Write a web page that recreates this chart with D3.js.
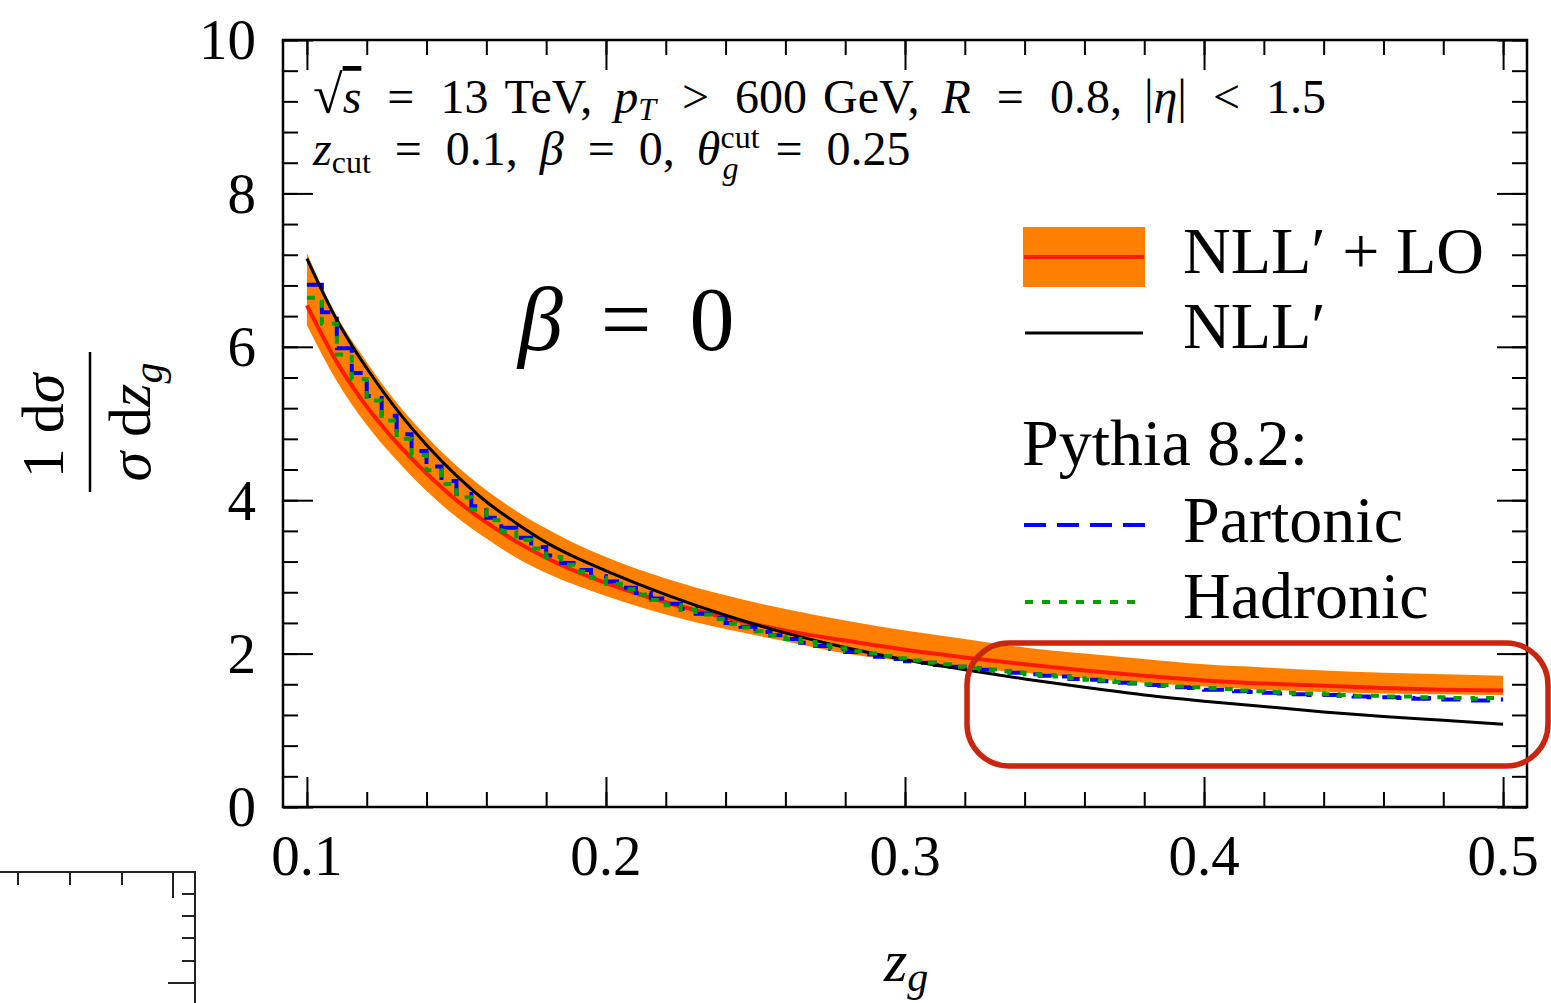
<!DOCTYPE html>
<html>
<head>
<meta charset="utf-8">
<script src="https://cdn.jsdelivr.net/npm/d3@7"></script>
<style>
  body { margin: 0; background: #fff; }
  text { font-family: "Liberation Serif", "Times New Roman", serif; fill: #000; }
  .it { font-style: italic; }
</style>
</head>
<body>
<svg id="chart" width="1551" height="1003"></svg>
<script>
// analytic curves, sampled on this grid
const zGrid = [0.10,0.11,0.12,0.13,0.14,0.15,0.16,0.17,0.18,0.19,0.20,
  0.22,0.24,0.26,0.28,0.30,0.32,0.34,0.36,0.38,0.40,0.42,0.44,0.46,0.48,0.50]
const nll = [7.15,6.35,5.72,5.18,4.72,4.32,3.98,3.70,3.45,3.25,3.08,
  2.77,2.50,2.27,2.08,1.92,1.79,1.67,1.56,1.46,1.38,1.31,1.24,1.18,1.13,1.08]
const nllLoHi = [7.22,6.40,5.80,5.27,4.83,4.45,4.13,3.86,3.63,3.43,3.26,
  2.98,2.76,2.58,2.43,2.30,2.19,2.08,2.00,1.93,1.86,1.82,1.78,1.75,1.73,1.71]
const nllLoLo = [6.28,5.55,4.98,4.52,4.12,3.78,3.50,3.25,3.05,2.89,2.75,
  2.51,2.32,2.16,2.00,1.90,1.82,1.75,1.68,1.62,1.57,1.53,1.50,1.48,1.47,1.46]
const nllLo = [6.54,5.80,5.22,4.75,4.35,4.00,3.71,3.46,3.25,3.07,2.92,
  2.67,2.47,2.30,2.17,2.05,1.95,1.86,1.78,1.71,1.65,1.61,1.58,1.55,1.53,1.52]

// pythia histograms, 80 bins of 0.005 from 0.1 to 0.5
const binStart = 0.1, binWidth = 0.005
const partonic = [
  6.81,6.45,5.98,5.66,5.36,5.10,4.86,4.64,4.44,4.25,
  4.08,3.92,3.77,3.64,3.51,3.39,3.28,3.18,3.09,3.01,
  2.94,2.86,2.79,2.72,2.65,2.58,2.52,2.46,2.40,2.35,
  2.28,2.24,2.19,2.14,2.10,2.06,2.02,1.99,1.96,1.93,
  1.90,1.88,1.85,1.83,1.81,1.79,1.77,1.75,1.73,1.71,
  1.70,1.67,1.66,1.64,1.62,1.61,1.59,1.58,1.56,1.55,
  1.53,1.53,1.51,1.50,1.49,1.48,1.47,1.46,1.46,1.45,
  1.44,1.43,1.43,1.42,1.41,1.42,1.40,1.40,1.39,1.40]
const hadronic = [
  6.64,6.30,5.90,5.58,5.30,5.04,4.80,4.59,4.39,4.21,
  4.04,3.88,3.74,3.60,3.48,3.37,3.26,3.16,3.07,2.99,
  2.91,2.84,2.77,2.70,2.63,2.57,2.51,2.45,2.39,2.34,
  2.29,2.24,2.19,2.15,2.11,2.07,2.03,2.00,1.97,1.94,
  1.91,1.88,1.86,1.83,1.81,1.79,1.77,1.75,1.73,1.72,
  1.70,1.68,1.66,1.65,1.63,1.62,1.60,1.59,1.57,1.56,
  1.55,1.54,1.52,1.51,1.50,1.49,1.48,1.48,1.47,1.46,
  1.45,1.45,1.44,1.44,1.43,1.43,1.42,1.42,1.41,1.42]

const xTicks = [0.1, 0.2, 0.3, 0.4, 0.5]
const yTicks = [0, 2, 4, 6, 8, 10]

const svg = d3.select("#chart")
const L = 283, R = 1527, T = 40, B = 807
const x = d3.scaleLinear().domain([0.092, 0.508]).range([L, R])
const y = d3.scaleLinear().domain([0, 10]).range([B, T])

// band + curves
const band = d3.area().x((d, i) => x(zGrid[i])).y0((d, i) => y(nllLoLo[i])).y1((d, i) => y(nllLoHi[i]))
  .curve(d3.curveMonotoneX)
svg.append("path").datum(zGrid).attr("d", band).attr("fill", "#ff8000")

const line = d3.line().x(d => x(d[0])).y(d => y(d[1])).curve(d3.curveMonotoneX)
svg.append("path").datum(zGrid.map((z, i) => [z, nllLo[i]])).attr("d", line)
  .attr("fill", "none").attr("stroke", "#ff1a00").attr("stroke-width", 4)

function histPts(vals) {
  var pts = vals.map((v, i) => [binStart + i * binWidth, v])
  pts.push([binStart + vals.length * binWidth, vals[vals.length - 1]])
  return pts
}
const step = d3.line().x(d => x(d[0])).y(d => y(d[1])).curve(d3.curveStepAfter)

svg.append("path").datum(histPts(partonic)).attr("d", step)
  .attr("fill", "none").attr("stroke", "#0000ff").attr("stroke-width", 4)
  .attr("stroke-dasharray", "20,11")
svg.append("path").datum(zGrid.map((z, i) => [z, nll[i]])).attr("d", line)
  .attr("fill", "none").attr("stroke", "#000").attr("stroke-width", 3)
svg.append("path").datum(histPts(hadronic)).attr("d", step)
  .attr("fill", "none").attr("stroke", "#00a000").attr("stroke-width", 4)
  .attr("stroke-dasharray", "8,9")

// axes, ticks inward on all four sides
function ticksOn(axis, pos, vals, len) {
  var g = svg.append("g").attr("transform", pos)
    .call(axis.tickValues(vals).tickSize(-len).tickSizeOuter(0).tickFormat(""))
  g.select(".domain").remove()
  g.selectAll("line").attr("stroke", "#000").attr("stroke-width", 2)
  return g
}
const xMinor = x.ticks(20)
const yMinor = d3.range(0, 10.01, 0.4)
ticksOn(d3.axisBottom(x), `translate(0,${B})`, xMinor, 15)
ticksOn(d3.axisTop(x), `translate(0,${T})`, xMinor, 15)
ticksOn(d3.axisLeft(y), `translate(${L},0)`, yMinor, 15)
ticksOn(d3.axisRight(y), `translate(${R},0)`, yMinor, 15)
ticksOn(d3.axisBottom(x), `translate(0,${B})`, xTicks, 30)
ticksOn(d3.axisTop(x), `translate(0,${T})`, xTicks, 30)
ticksOn(d3.axisLeft(y), `translate(${L},0)`, yTicks, 30)
ticksOn(d3.axisRight(y), `translate(${R},0)`, yTicks, 30)

svg.append("rect").attr("x", L).attr("y", T).attr("width", R - L).attr("height", B - T)
  .attr("fill", "none").attr("stroke", "#000").attr("stroke-width", 2.5)

svg.selectAll(".xlab").data(xTicks).join("text")
  .attr("x", d => x(d)).attr("y", B + 68).attr("text-anchor", "middle")
  .style("font-size", "57px").text(d => d3.format(".1f")(d))
svg.selectAll(".ylab").data(yTicks).join("text")
  .attr("x", L - 27).attr("y", d => y(d)).attr("dy", "0.34em").attr("text-anchor", "end")
  .style("font-size", "57px").text(d => d)

// axis titles
var xt = svg.append("text").attr("x", 884).attr("y", 981).style("font-size", "60px")
xt.append("tspan").attr("class", "it").text("z")
xt.append("tspan").attr("class", "it").attr("dy", 10).style("font-size", "42px").text("g")

var yt = svg.append("g").attr("transform", "translate(90,422) rotate(-90)")
yt.append("line").attr("x1", -70).attr("x2", 70).attr("stroke", "#000").attr("stroke-width", 2.5)
var num = yt.append("text").attr("x", -4).attr("y", -27).attr("text-anchor", "middle").style("font-size", "60px")
num.append("tspan").text("1 d")
num.append("tspan").attr("class", "it").text("σ")
var den = yt.append("text").attr("x", 0).attr("y", 60).attr("text-anchor", "middle").style("font-size", "60px")
den.append("tspan").attr("class", "it").text("σ")
den.append("tspan").text(" d")
den.append("tspan").attr("class", "it").text("z")
den.append("tspan").attr("class", "it").attr("dy", 12).style("font-size", "42px").text("g")

// annotations (math spacing done with dx)
const rel = 26, sep = 22, wsp = 16
var a1 = svg.append("text").attr("x", 313).attr("y", 113).style("font-size", "48px")
a1.append("tspan").style("font-size", "54px").text("√")
a1.append("tspan").attr("class", "it").style("text-decoration", "overline").text("s")
a1.append("tspan").attr("dx", rel).text("=")
a1.append("tspan").attr("dx", rel).text("13")
a1.append("tspan").attr("dx", wsp).text("TeV,")
a1.append("tspan").attr("dx", sep).attr("class", "it").text("p")
a1.append("tspan").attr("class", "it").attr("dy", 7).style("font-size", "32px").text("T")
a1.append("tspan").attr("dy", -7).attr("dx", rel).text(">")
a1.append("tspan").attr("dx", rel).text("600")
a1.append("tspan").attr("dx", wsp).text("GeV,")
a1.append("tspan").attr("dx", sep).attr("class", "it").text("R")
a1.append("tspan").attr("dx", rel).text("=")
a1.append("tspan").attr("dx", rel).text("0.8,")
a1.append("tspan").attr("dx", sep).text("|")
a1.append("tspan").attr("class", "it").text("η")
a1.append("tspan").text("|")
a1.append("tspan").attr("dx", rel).text("<")
a1.append("tspan").attr("dx", rel).text("1.5")

var a2 = svg.append("text").attr("x", 313).attr("y", 165).style("font-size", "48px")
a2.append("tspan").attr("class", "it").text("z")
a2.append("tspan").attr("dy", 8).style("font-size", "32px").text("cut")
a2.append("tspan").attr("dy", -8).attr("dx", 24).text("=")
a2.append("tspan").attr("dx", 24).text("0.1,")
a2.append("tspan").attr("dx", sep).attr("class", "it").text("β")
a2.append("tspan").attr("dx", 24).text("=")
a2.append("tspan").attr("dx", 24).text("0,")
a2.append("tspan").attr("dx", sep).attr("class", "it").text("θ")
a2.append("tspan").attr("dy", -17).style("font-size", "32px").text("cut")
a2.append("tspan").attr("class", "it").attr("dx", -37).attr("dy", 31).style("font-size", "32px").text("g")
a2.append("tspan").attr("dx", 37).attr("dy", -14).text("=")
a2.append("tspan").attr("dx", 24).text("0.25")

var bt = svg.append("text").attr("x", 518).attr("y", 350).style("font-size", "90px")
bt.append("tspan").attr("class", "it").text("β")
bt.append("tspan").attr("dx", 38).text("=")
bt.append("tspan").attr("dx", 38).text("0")

// legend
svg.append("rect").attr("x", 1023).attr("y", 227).attr("width", 122).attr("height", 60).attr("fill", "#ff8000")
svg.append("line").attr("x1", 1024).attr("x2", 1144).attr("y1", 257).attr("y2", 257)
  .attr("stroke", "#ff1a00").attr("stroke-width", 4)
svg.append("line").attr("x1", 1025).attr("x2", 1143).attr("y1", 333).attr("y2", 333)
  .attr("stroke", "#000").attr("stroke-width", 3)
svg.append("line").attr("x1", 1024).attr("x2", 1145).attr("y1", 525).attr("y2", 525)
  .attr("stroke", "#0000ff").attr("stroke-width", 4).attr("stroke-dasharray", "22,11")
svg.append("line").attr("x1", 1025).attr("x2", 1140).attr("y1", 602).attr("y2", 602)
  .attr("stroke", "#00a000").attr("stroke-width", 4).attr("stroke-dasharray", "8,9")

const legFont = "66px"
svg.append("text").attr("x", 1183).attr("y", 273).style("font-size", legFont).text("NLL′ + LO")
svg.append("text").attr("x", 1183).attr("y", 348).style("font-size", legFont).text("NLL′")
svg.append("text").attr("x", 1022).attr("y", 465).style("font-size", legFont).text("Pythia 8.2:")
svg.append("text").attr("x", 1183).attr("y", 542).style("font-size", legFont).text("Partonic")
svg.append("text").attr("x", 1183).attr("y", 618).style("font-size", legFont).text("Hadronic")

// leftover corner of another panel, bottom left
var c = svg.append("g").attr("stroke", "#222").attr("stroke-width", 2).attr("fill", "none")
c.append("path").attr("d", "M0,872H195V1003")
;[18, 70, 122].forEach(px => c.append("line").attr("x1", px).attr("x2", px).attr("y1", 872).attr("y2", 885))
c.append("line").attr("x1", 173).attr("x2", 173).attr("y1", 872).attr("y2", 898)
;[894, 916, 938, 961].forEach(py => c.append("line").attr("x1", 182).attr("x2", 195).attr("y1", py).attr("y2", py))
c.append("line").attr("x1", 168).attr("x2", 195).attr("y1", 983).attr("y2", 983)

// hand drawn highlight
svg.append("rect").attr("x", 967).attr("y", 643).attr("width", 581).attr("height", 123)
  .attr("rx", 42).attr("ry", 42).attr("fill", "none").attr("stroke", "#c8260e").attr("stroke-width", 5.5)
</script>
</body>
</html>
